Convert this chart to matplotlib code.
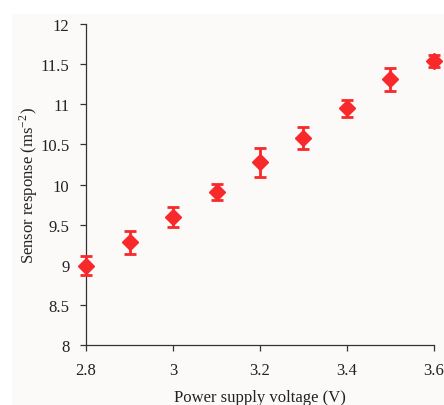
import matplotlib.pyplot as plt
from matplotlib.patches import Rectangle

voltage = [2.8, 2.9, 3.0, 3.1, 3.2, 3.3, 3.4, 3.5, 3.6]
response = [8.99, 9.28, 9.59, 9.91, 10.28, 10.58, 10.95, 11.31, 11.54]
err = [0.12, 0.145, 0.125, 0.1, 0.18, 0.14, 0.11, 0.145, 0.08]

plt.rcParams['font.family'] = 'Liberation Serif'
plt.rcParams['mathtext.fontset'] = 'stix'

fig = plt.figure(figsize=(4.44, 4.06), dpi=100)
# light panel behind the chart
bg = Rectangle((12/444, 0), 1, 1 - 15/406, transform=fig.transFigure,
               facecolor='#fcfaf9', edgecolor='none', zorder=-10)
fig.add_artist(bg)
ax = fig.add_axes([0.194, 0.148, 0.783, 0.790])
ax.set_facecolor('none')

ax.errorbar(voltage, response, yerr=err, fmt='D', color='#f8292a', ecolor='#f8292a',
            markersize=8, elinewidth=2, capsize=4, capthick=2, clip_on=False, zorder=3)

ax.set_xlim(2.8, 3.6)
ax.set_ylim(8, 12)
ax.set_xticks([2.8, 3.0, 3.2, 3.4, 3.6])
ax.set_xticklabels(['2.8', '3', '3.2', '3.4', '3.6'])
ax.set_yticks([8, 8.5, 9, 9.5, 10, 10.5, 11, 11.5, 12])
ax.set_yticklabels(['8', '8.5', '9', '9.5', '10', '10.5', '11', '11.5', '12'])
for s in ['top', 'right']:
    ax.spines[s].set_visible(False)
for s in ['left', 'bottom']:
    ax.spines[s].set_color('#333333')
    ax.spines[s].set_linewidth(0.9)
ax.tick_params(direction='out', length=4, width=0.9, colors='#333333', labelsize=12,
               labelcolor='#222222', pad=8)
ax.set_xlabel('Power supply voltage (V)', fontsize=12, color='#222222', labelpad=8)
ax.set_ylabel('Sensor response (ms$^{\\mathregular{-2}}$)', fontsize=12, color='#222222', labelpad=0)

fig.savefig('out.png', dpi=100)
